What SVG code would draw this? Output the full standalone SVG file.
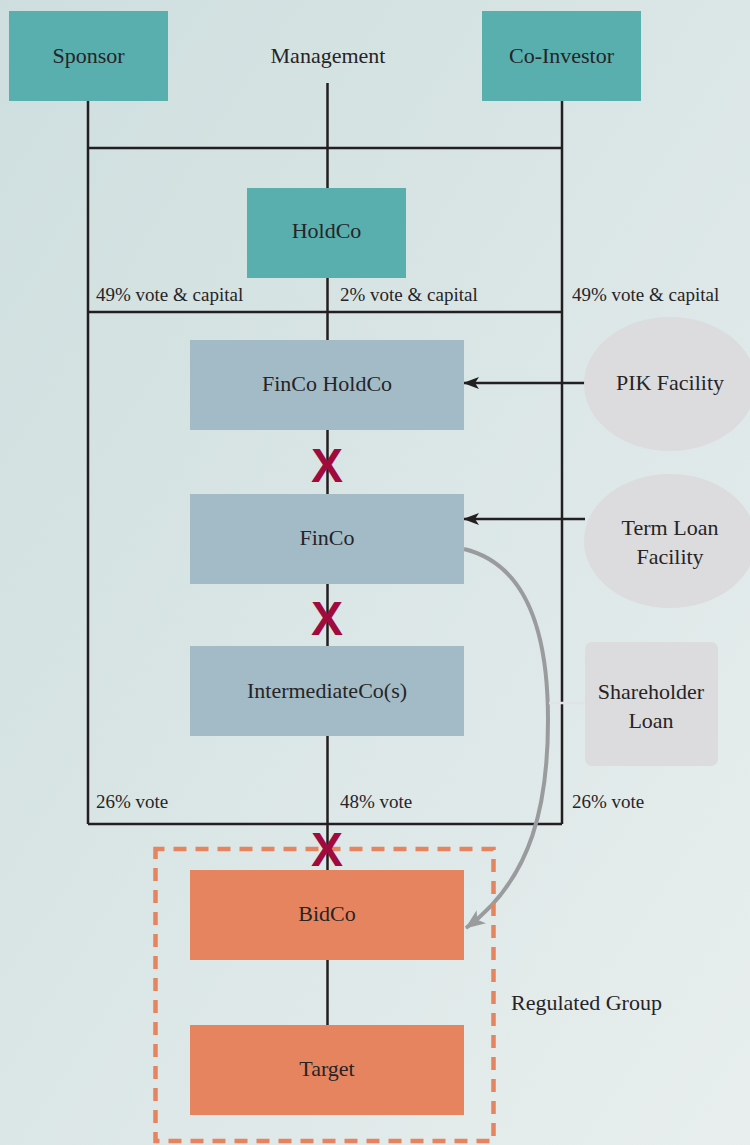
<svg xmlns="http://www.w3.org/2000/svg" width="750" height="1145" viewBox="0 0 750 1145">
  <defs>
    <linearGradient id="bg" x1="0" y1="0" x2="1" y2="1">
      <stop offset="0" stop-color="#cedede"/>
      <stop offset="1" stop-color="#e8eeee"/>
    </linearGradient>
    <marker id="arrBlack" viewBox="0 0 16 12" refX="15" refY="6" markerWidth="16" markerHeight="12" markerUnits="userSpaceOnUse" orient="auto">
      <path d="M0,0 L16,6 L0,12 L4,6 Z" fill="#231f20"/>
    </marker>
    <marker id="arrGrey" viewBox="0 0 20 16" refX="19" refY="8" markerWidth="20" markerHeight="16" markerUnits="userSpaceOnUse" orient="auto">
      <path d="M0,0 L20,8 L0,16 L5,8 Z" fill="#9a9b9d"/>
    </marker>
    <style>
      .serif { font-family: Liberation Serif, serif; }
      .node { font-size: 22px; text-anchor: middle; }
      .lbl { font-size: 19px; }
      .teal { fill: #58afae; }
      .blue { fill: #a2bbc6; }
      .orange { fill: #e6845f; }
      .lender { fill: #dcdcde; }
      .ln { stroke: #231f20; stroke-width: 2.5; fill: none; }
      .cut { font-family: Liberation Sans, sans-serif; font-weight: bold; font-size: 48px; fill: #a00a3c; text-anchor: middle; }
    </style>
  </defs>

  <rect x="0" y="0" width="750" height="1145" fill="url(#bg)"/>

  <!-- ownership lines and funding arrows -->
  <g id="connectors">
    <path class="ln" d="M88,101 V824 M562,101 V824 M88,148 H562 M88,312 H562 M88,824 H562"/>
    <path class="ln" d="M327.5,83 V188 M327.5,278 V340 M327.5,430 V494 M327.5,584 V646 M327.5,736 V870 M327.5,960 V1025"/>
    <path class="ln" d="M585,383 H464" marker-end="url(#arrBlack)"/>
    <path class="ln" d="M585,519 H464" marker-end="url(#arrBlack)"/>
    <path d="M464,549 C530,565 548,640 548,720 C548,800 534,878 466,928" fill="none" stroke="#9a9b9d" stroke-width="4" marker-end="url(#arrGrey)"/>
    <path d="M549,703 H585" stroke="#e2e3e4" stroke-width="2.5"/>
  </g>

  <g class="serif" font-family="Liberation Serif, serif" fill="#262426">
    <!-- shareholders -->
    <g id="sponsor">
      <rect class="teal" x="9" y="11" width="159" height="90"/>
      <text class="node" x="88.5" y="63">Sponsor</text>
    </g>
    <g id="management">
      <text class="node" x="328" y="63">Management</text>
    </g>
    <g id="co-investor">
      <rect class="teal" x="482" y="11" width="159" height="90"/>
      <text class="node" x="561.5" y="63">Co-Investor</text>
    </g>
    <g id="holdco">
      <rect class="teal" x="247" y="188" width="159" height="90"/>
      <text class="node" x="326.5" y="238">HoldCo</text>
    </g>

    <!-- percentages -->
    <g id="stakes">
      <text class="lbl" x="96" y="301">49% vote &amp; capital</text>
      <text class="lbl" x="340" y="301">2% vote &amp; capital</text>
      <text class="lbl" x="572" y="301">49% vote &amp; capital</text>
      <text class="lbl" x="96" y="808">26% vote</text>
      <text class="lbl" x="340" y="808">48% vote</text>
      <text class="lbl" x="572" y="808">26% vote</text>
    </g>

    <!-- financing chain -->
    <g id="finco-holdco">
      <rect class="blue" x="190" y="340" width="274" height="90"/>
      <text class="node" x="327" y="391">FinCo HoldCo</text>
    </g>
    <g id="finco">
      <rect class="blue" x="190" y="494" width="274" height="90"/>
      <text class="node" x="327" y="545">FinCo</text>
    </g>
    <g id="intermediateco">
      <rect class="blue" x="190" y="646" width="274" height="90"/>
      <text class="node" x="327" y="698">IntermediateCo(s)</text>
    </g>

    <!-- lenders -->
    <g id="pik-facility">
      <ellipse class="lender" cx="670" cy="384" rx="86" ry="67"/>
      <text class="node" x="670" y="390">PIK Facility</text>
    </g>
    <g id="term-loan">
      <ellipse class="lender" cx="670" cy="541" rx="86" ry="67"/>
      <text class="node" x="670" y="535">Term Loan</text>
      <text class="node" x="670" y="564">Facility</text>
    </g>
    <g id="shareholder-loan">
      <rect class="lender" x="585" y="642" width="133" height="124" rx="7"/>
      <text class="node" x="651" y="699">Shareholder</text>
      <text class="node" x="651" y="728">Loan</text>
    </g>

    <!-- regulated group -->
    <g id="regulated-group">
      <rect x="155.5" y="849" width="338" height="292" fill="none" stroke="#e6845f" stroke-width="4.5" stroke-dasharray="13 9" stroke-dashoffset="4"/>
      <text class="node" x="511" y="1010" text-anchor="start" style="text-anchor:start">Regulated Group</text>
    </g>
    <g id="bidco">
      <rect class="orange" x="190" y="870" width="274" height="90"/>
      <text class="node" x="327" y="921">BidCo</text>
    </g>
    <g id="target">
      <rect class="orange" x="190" y="1025" width="274" height="90"/>
      <text class="node" x="327" y="1076">Target</text>
    </g>
  </g>

  <!-- ring-fence cuts -->
  <g id="cuts">
    <text class="cut" x="327" y="482">X</text>
    <text class="cut" x="327" y="635">X</text>
    <text class="cut" x="327" y="866">X</text>
  </g>
</svg>
